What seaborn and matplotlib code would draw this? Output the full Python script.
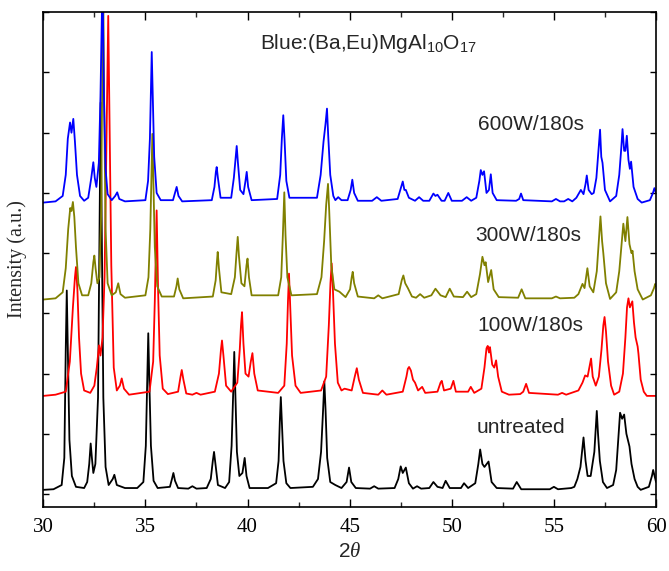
import matplotlib
matplotlib.use("Agg")
import matplotlib.pyplot as plt
import seaborn as sns
import pandas as pd
from matplotlib.ticker import MultipleLocator

# ---------------- data: (2theta, offset intensity in a.u.) ----------------
black_pts = [(30.0,0.07),(30.5,0.08),(30.9,0.15),(31.03,0.6),(31.1,2.4),(31.15,3.38),(31.2,2.4),(31.28,0.9),
    (31.4,0.3),(31.6,0.12),(32.0,0.1),(32.15,0.2),(32.25,0.5),(32.32,0.84),(32.38,0.6),(32.45,0.35),
    (32.55,0.5),(32.68,1.6),(32.76,4.5),(32.81,6.5),(32.86,4.5),(32.94,1.6),(33.05,0.45),(33.2,0.15),
    (33.4,0.25),(33.48,0.32),(33.6,0.15),(34.0,0.1),(34.6,0.1),(34.9,0.2),(35.02,0.8),(35.09,1.9),
    (35.14,2.67),(35.19,1.9),(35.27,0.8),(35.4,0.22),(35.6,0.1),(36.2,0.12),(36.3,0.25),(36.37,0.35),
    (36.45,0.22),(36.6,0.1),(37.1,0.09),(37.3,0.13),(37.5,0.09),(38.0,0.1),(38.2,0.25),(38.3,0.55),
    (38.36,0.70),(38.43,0.5),(38.55,0.15),(38.9,0.1),(39.1,0.2),(39.22,0.8),(39.3,1.7),(39.35,2.36),
    (39.4,1.7),(39.48,0.7),(39.6,0.3),(39.75,0.35),(39.86,0.6),(39.95,0.3),(40.1,0.1),(41.0,0.1),
    (41.4,0.18),(41.52,0.55),(41.58,1.2),(41.63,1.61),(41.68,1.2),(41.76,0.55),(41.9,0.18),(42.1,0.1),
    (43.2,0.12),(43.45,0.25),(43.6,0.7),(43.7,1.4),(43.76,1.87),(43.82,1.4),(43.9,0.6),(44.05,0.2),
    (44.3,0.15),(44.6,0.1),(44.85,0.2),(44.97,0.44),(45.08,0.2),(45.3,0.1),(46.0,0.09),(46.2,0.13),
    (46.4,0.09),(47.2,0.1),(47.38,0.25),(47.5,0.46),(47.6,0.35),(47.75,0.44),(47.9,0.18),(48.1,0.09),
    (48.3,0.13),(48.5,0.09),(48.9,0.1),(49.1,0.2),(49.3,0.12),(49.55,0.1),(49.7,0.22),(49.9,0.1),
    (50.45,0.1),(50.6,0.18),(50.8,0.1),(51.15,0.18),(51.3,0.5),(51.39,0.74),(51.5,0.5),(51.6,0.45),
    (51.8,0.54),(51.95,0.2),(52.2,0.1),(53.0,0.09),(53.18,0.2),(53.4,0.08),(54.8,0.08),(55.0,0.12),
    (55.2,0.08),(55.85,0.1),(56.0,0.12),(56.15,0.25),(56.3,0.45),(56.45,0.94),(56.55,0.55),(56.65,0.3),
    (56.8,0.3),(56.98,0.7),(57.05,1.1),(57.1,1.38),(57.16,1.0),(57.25,0.55),(57.4,0.2),(57.6,0.1),
    (57.9,0.15),(58.05,0.4),(58.15,0.9),(58.24,1.35),(58.34,1.25),(58.44,1.32),(58.55,1.0),(58.7,0.79),
    (58.8,0.5),(58.95,0.25),(59.1,0.12),(59.25,0.07),(59.65,0.12),(59.8,0.3),(59.86,0.4),(59.93,0.3),
    (60.0,0.2)]

red_pts = [(30.0,1.63),(30.6,1.65),(31.1,1.7),(31.3,2.2),(31.45,3.1),(31.55,3.6),(31.6,3.77),(31.67,3.4),
    (31.75,2.6),(31.85,2.0),(32.0,1.72),(32.3,1.68),(32.5,1.8),(32.62,2.1),(32.73,2.47),(32.8,2.3),
    (32.9,2.6),(33.0,3.6),(33.1,6.0),(33.18,7.94),(33.25,6.0),(33.33,3.8),(33.45,2.1),(33.6,1.72),
    (33.75,1.8),(33.84,1.92),(33.95,1.75),(34.2,1.65),(35.2,1.7),(35.38,2.2),(35.46,3.2),(35.55,4.71),
    (35.62,3.4),(35.7,2.3),(35.85,1.75),(36.1,1.66),(36.6,1.7),(36.72,1.95),(36.78,2.06),(36.86,1.9),
    (37.0,1.67),(37.3,1.65),(37.5,1.68),(37.7,1.65),(38.4,1.7),(38.6,2.0),(38.7,2.4),(38.75,2.55),
    (38.82,2.3),(38.95,1.8),(39.2,1.7),(39.5,1.85),(39.62,2.4),(39.68,2.8),(39.73,3.02),(39.8,2.5),
    (39.9,2.0),(40.05,1.95),(40.16,2.2),(40.24,2.34),(40.33,2.0),(40.5,1.72),(41.5,1.68),(41.8,1.8),
    (41.92,2.5),(41.98,3.2),(42.03,3.66),(42.09,3.1),(42.18,2.3),(42.35,1.8),(42.6,1.68),(43.6,1.72),
    (43.85,1.95),(43.98,2.8),(44.06,3.5),(44.12,3.83),(44.18,3.4),(44.28,2.5),(44.42,1.85),(44.6,1.72),
    (44.75,1.75),(45.1,1.72),(45.25,1.95),(45.35,2.09),(45.45,1.9),(45.65,1.68),(46.4,1.65),(46.6,1.72),
    (46.8,1.65),(47.6,1.7),(47.78,1.95),(47.85,2.08),(47.91,2.11),(48.0,2.05),(48.1,1.9),(48.2,1.85),
    (48.35,1.72),(48.55,1.78),(48.7,1.68),(49.3,1.7),(49.45,1.85),(49.51,1.88),(49.62,1.72),(49.95,1.75),
    (50.08,1.88),(50.2,1.7),(50.8,1.7),(50.93,1.78),(51.1,1.68),(51.45,1.75),(51.6,2.1),(51.7,2.42),
    (51.76,2.46),(51.82,2.35),(51.87,2.44),(51.98,2.15),(52.08,2.1),(52.17,2.22),(52.27,1.95),(52.45,1.7),
    (52.8,1.65),(53.35,1.66),(53.5,1.7),(53.64,1.83),(53.78,1.68),(55.2,1.65),(55.4,1.68),(55.6,1.65),
    (56.2,1.72),(56.4,1.85),(56.53,1.97),(56.65,1.95),(56.76,2.15),(56.82,2.25),(56.9,1.95),(57.05,1.8),
    (57.2,1.95),(57.33,2.4),(57.42,2.8),(57.48,2.94),(57.55,2.7),(57.65,2.2),(57.8,1.8),(57.95,1.65),
    (58.2,1.7),(58.38,2.0),(58.5,2.6),(58.58,3.1),(58.65,3.25),(58.72,3.1),(58.78,3.15),(58.84,3.2),
    (58.92,2.85),(59.0,2.6),(59.1,2.45),(59.14,2.33),(59.25,1.9),(59.4,1.7),(59.55,1.63),(60.0,1.63)]

olive_pts = [(30.0,3.23),(30.6,3.25),(30.95,3.35),(31.1,3.75),(31.22,4.4),(31.32,4.75),(31.38,4.7),
    (31.45,4.85),(31.52,4.6),(31.6,4.1),(31.72,3.5),(31.9,3.3),(32.2,3.3),(32.35,3.5),(32.45,3.85),
    (32.5,3.96),(32.56,3.75),(32.65,3.5),(32.75,3.6),(32.83,4.6),(32.88,6.5),(32.93,8.6),(32.98,6.5),
    (33.05,4.4),(33.15,3.5),(33.35,3.3),(33.55,3.35),(33.67,3.5),(33.78,3.32),(34.0,3.26),(35.0,3.3),
    (35.15,3.6),(35.24,4.4),(35.3,5.3),(35.34,5.98),(35.39,5.2),(35.46,4.1),(35.58,3.45),(35.8,3.28),
    (36.4,3.28),(36.52,3.45),(36.58,3.58),(36.66,3.4),(36.85,3.25),(38.3,3.28),(38.44,3.55),(38.5,3.85),
    (38.54,4.02),(38.6,3.75),(38.72,3.35),(39.2,3.32),(39.38,3.6),(39.46,4.0),(39.52,4.27),(39.58,3.95),
    (39.7,3.5),(39.85,3.45),(39.95,3.8),(40.0,3.91),(40.07,3.6),(40.2,3.3),(41.5,3.3),(41.65,3.6),
    (41.73,4.3),(41.8,5.01),(41.86,4.3),(41.95,3.6),(42.15,3.3),(43.4,3.32),(43.62,3.6),(43.75,4.2),
    (43.85,4.8),(43.94,5.15),(44.0,4.7),(44.1,3.8),(44.25,3.4),(44.5,3.36),(44.8,3.27),(45.02,3.4),
    (45.1,3.6),(45.15,3.69),(45.22,3.5),(45.4,3.28),(46.2,3.25),(46.4,3.3),(46.6,3.25),(47.4,3.32),
    (47.55,3.55),(47.63,3.63),(47.72,3.5),(47.85,3.42),(48.05,3.28),(48.25,3.26),(48.45,3.32),(48.65,3.26),
    (49.0,3.3),(49.2,3.41),(49.45,3.3),(49.7,3.27),(49.9,3.41),(50.1,3.28),(50.55,3.27),(50.75,3.36),
    (50.95,3.27),(51.2,3.32),(51.38,3.65),(51.5,3.94),(51.6,3.8),(51.66,3.85),(51.78,3.52),(51.93,3.72),
    (52.05,3.4),(52.3,3.27),(53.25,3.26),(53.42,3.4),(53.6,3.25),(54.9,3.25),(55.1,3.28),(55.3,3.25),
    (56.0,3.26),(56.2,3.32),(56.4,3.49),(56.5,3.42),(56.64,3.75),(56.75,3.45),(56.93,3.35),(57.1,3.7),
    (57.2,4.2),(57.28,4.61),(57.36,4.2),(57.42,4.0),(57.55,3.5),(57.75,3.24),(58.05,3.35),(58.2,3.7),
    (58.3,4.1),(58.4,4.49),(58.5,4.2),(58.6,4.6),(58.7,4.15),(58.8,4.0),(58.85,4.04),(58.95,3.7),
    (59.1,3.4),(59.35,3.23),(59.75,3.3),(59.9,3.42),(59.96,3.49),(60.0,3.45)]

blue_pts = [(30.0,4.84),(30.6,4.86),(30.95,4.95),(31.1,5.3),(31.2,5.9),(31.31,6.17),(31.38,6.0),
    (31.47,6.23),(31.55,5.85),(31.65,5.3),(31.8,4.95),(32.0,4.87),(32.2,4.92),(32.35,5.25),(32.45,5.51),
    (32.52,5.25),(32.6,5.1),(32.72,5.5),(32.8,6.6),(32.9,8.6),(32.97,6.6),(33.05,5.4),(33.15,4.98),
    (33.35,4.88),(33.52,4.95),(33.62,5.01),(33.72,4.9),(34.0,4.86),(35.0,4.88),(35.13,5.2),(35.22,5.9),
    (35.27,6.7),(35.31,7.34),(35.36,6.6),(35.43,5.6),(35.55,5.0),(35.75,4.88),(36.35,4.88),(36.45,5.0),
    (36.53,5.10),(36.62,4.95),(36.8,4.86),(38.25,4.88),(38.38,5.1),(38.45,5.35),(38.49,5.43),(38.55,5.25),
    (38.68,4.92),(39.2,4.92),(39.33,5.25),(39.42,5.6),(39.47,5.78),(39.53,5.5),(39.64,5.05),(39.8,4.98),
    (39.9,5.2),(39.96,5.35),(40.03,5.1),(40.2,4.88),(41.45,4.9),(41.6,5.3),(41.68,5.9),(41.75,6.29),
    (41.81,5.9),(41.9,5.2),(42.05,4.92),(43.4,4.92),(43.58,5.3),(43.72,5.85),(43.82,6.15),(43.89,6.40),
    (43.95,5.95),(44.05,5.3),(44.2,4.95),(44.3,4.88),(44.44,4.93),(44.6,4.88),(44.9,4.88),(45.05,5.05),
    (45.13,5.22),(45.22,5.0),(45.4,4.87),(46.1,4.87),(46.33,4.93),(46.55,4.87),(47.35,4.9),(47.52,5.1),
    (47.6,5.19),(47.68,5.05),(47.75,5.05),(47.9,4.92),(48.2,4.87),(48.4,4.93),(48.6,4.87),(48.9,4.87),
    (49.1,4.99),(49.2,4.95),(49.3,4.97),(49.5,4.87),(49.65,4.87),(49.83,5.0),(50.0,4.87),(50.5,4.87),
    (50.73,4.93),(50.95,4.87),(51.2,4.92),(51.35,5.2),(51.42,5.38),(51.5,5.3),(51.58,5.36),(51.7,5.0),
    (51.82,5.05),(51.91,5.31),(52.0,5.0),(52.2,4.88),(53.15,4.87),(53.3,4.9),(53.39,4.99),(53.5,4.88),
    (54.9,4.86),(55.1,4.9),(55.3,4.86),(55.5,4.86),(55.7,4.9),(55.9,4.86),(56.1,4.92),(56.32,5.05),
    (56.45,4.98),(56.55,5.15),(56.61,5.29),(56.7,5.05),(56.85,4.98),(56.95,5.0),(57.08,5.25),(57.18,5.7),
    (57.26,6.05),(57.32,5.6),(57.38,5.5),(57.5,5.05),(57.75,4.86),(58.05,4.95),(58.2,5.3),(58.3,5.75),
    (58.36,6.06),(58.44,5.7),(58.5,5.7),(58.57,5.95),(58.65,5.55),(58.72,5.4),(58.78,5.52),(58.9,5.1),
    (59.1,4.9),(59.3,4.84),(59.7,4.88),(59.85,5.0),(59.92,5.08),(60.0,5.0)]

series_names = ["untreated", "100W/180s", "300W/180s", "600W/180s"]
series_colors = ["#000000", "#FF0000", "#808000", "#0000FF"]
label_x = [51.2, 51.23, 51.15, 51.3]
label_y = [1.11, 2.80, 4.30, 6.14]
title_text = "Blue:(Ba,Eu)MgAl$_{10}$O$_{17}$"
x_ticks = [30, 35, 40, 45, 50, 55, 60]

frames = []
for name, pts in zip(series_names, [black_pts, red_pts, olive_pts, blue_pts]):
    xs, ys = zip(*pts)
    frames.append(pd.DataFrame({"two_theta": xs, "intensity": ys, "sample": name}))
df = pd.concat(frames, ignore_index=True)

# ---------------- style ----------------
sns.set_style("ticks")
plt.rcParams["font.family"] = ["Liberation Serif", "DejaVu Serif"]
plt.rcParams["mathtext.fontset"] = "custom"
plt.rcParams["mathtext.rm"] = "Liberation Sans"
plt.rcParams["mathtext.it"] = "Liberation Serif:italic"

fig = plt.figure(figsize=(6.69, 5.71), dpi=100)
ax = fig.add_axes([0.0647, 0.1126, 0.9159, 0.8659])

sns.lineplot(data=df, x="two_theta", y="intensity", hue="sample",
             palette=dict(zip(series_names, series_colors)), hue_order=series_names,
             estimator=None, sort=False, linewidth=1.3, legend=False, ax=ax)

ax.set_xlim(30, 60)
ax.set_ylim(-0.21, 8.0)
ax.set_xticks(x_ticks)
ax.xaxis.set_minor_locator(MultipleLocator(2.5))
ax.yaxis.set_major_locator(MultipleLocator(1))
ax.set_yticklabels([])
ax.tick_params(axis="both", which="major", direction="in", top=True, right=True,
               length=6, width=1.0, colors="black")
ax.tick_params(axis="both", which="minor", direction="in", top=True, right=True,
               length=3.5, width=1.0)
ax.tick_params(axis="x", which="major", labelsize=15, pad=8)
ax.tick_params(axis="y", which="major", length=4)
for sp in ax.spines.values():
    sp.set_linewidth(1.2)
    sp.set_color("black")

ax.set_xlabel(r"2$\theta$", fontsize=15, family=["Liberation Sans"], labelpad=4)
ax.set_ylabel("Intensity (a.u.)", fontsize=14.5, labelpad=8)

for name, lx, ly in zip(series_names, label_x, label_y):
    ax.text(lx, ly, name, fontsize=15, family=["Liberation Sans"], ha="left", va="center")
ax.text(40.61, 7.39, title_text, fontsize=15, family=["Liberation Sans"], ha="left", va="baseline")

fig.savefig("out.png", dpi=100)
